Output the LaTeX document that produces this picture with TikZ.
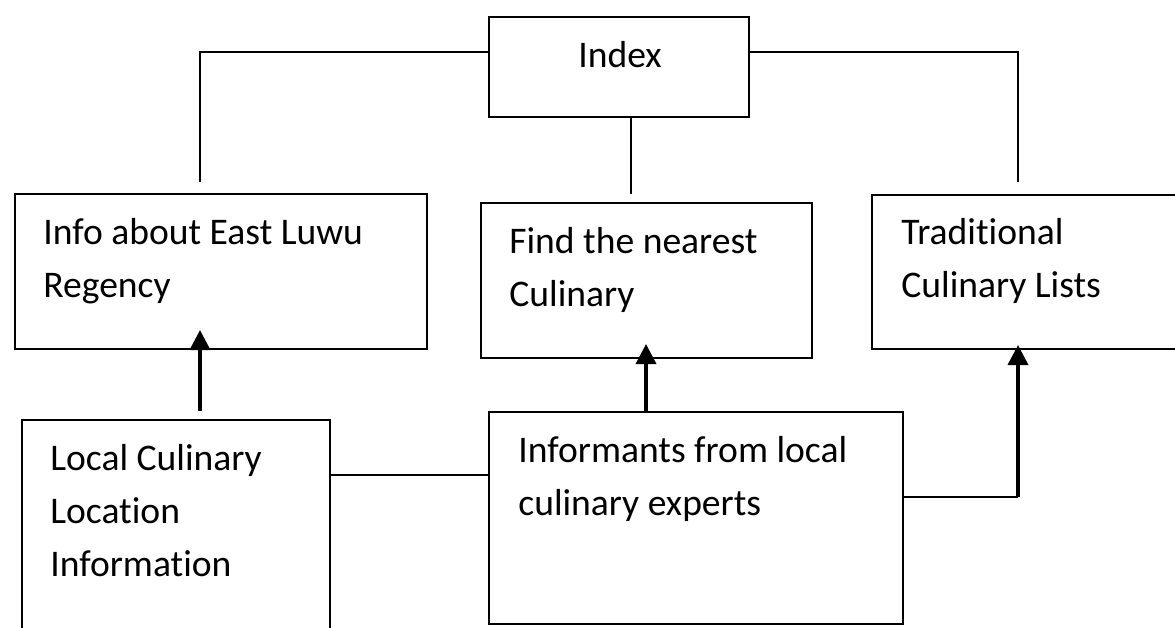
\documentclass[tikz,border=0pt]{standalone}
\usepackage{fontspec}
\setmainfont{Carlito}[Ligatures=NoCommon]
\usetikzlibrary{arrows.meta}

\tikzset{
  box/.style={draw, line width=1pt, inner sep=0pt},
  boxtext/.style={anchor=base west, inner sep=0pt, align=left,
    font=\fontsize{21.4}{30}\selectfont},
  link/.style={line width=1pt},
  flow/.style={line width=2pt, -{Triangle[length=0.4cm, width=0.4cm]}}
}

\begin{document}
\begin{tikzpicture}[line cap=butt,line join=miter,x=0.02cm,y=-0.02cm]
	\useasboundingbox (0,0) rectangle (1175,627);
	\clip (0,0) rectangle (1175,627);
	% boxes
	\node[box, minimum width=5.2cm, minimum height=2cm] (index) at (619,67) {};
	\node[box, minimum width=8.24cm, minimum height=3.1cm] (info) at (221,271.5) {};
	\node[box, minimum width=6.62cm, minimum height=3.1cm] (nearest) at (646.5,280.5) {};
	\node[box, minimum width=6.36cm, minimum height=3.08cm] (trad) at (1031,272) {};
	\node[box, minimum width=6.16cm, minimum height=4.8cm] (local) at (176,540) {};
	\node[box, minimum width=8.28cm, minimum height=4.24cm] (informants) at (696,518) {};
	% texts (base = last line)
	\node[boxtext, anchor=base] (indextext) at (620,67) {Index};
	\node[boxtext] (infotext) at (43,297) {Info about East Luwu\\Regency};
	\node[boxtext] (nearesttext) at (509,306) {Find the nearest\\Culinary};
	\node[boxtext] (tradtext) at (901,297) {Traditional\\Culinary Lists};
	\node[boxtext] (localtext) at (50,576) {Local Culinary\\Location\\Information};
	\node[boxtext] (informantstext) at (518,515) {Informants from local\\culinary experts};
	% free ends
	\coordinate (bar) at (0,52);
	\coordinate (infoend) at (200,182);
	\coordinate (tradend) at (1018,182);
	\coordinate (nearend) at (631,194);
	\coordinate (localend) at (200,411);
	\coordinate (infotip) at (200,330);
	\coordinate (nearesttip) at (646,344);
	\coordinate (tradtip) at (1018,345);
	\coordinate (midline) at (0,475);
	\coordinate (expline) at (0,497);
	% lines
	\draw[link] (index.west |- bar) -| (infoend);
	\draw[link] (index.east |- bar) -| (tradend);
	\draw[link] (index.south -| nearend) -- (nearend);
	\draw[link] (local.east |- midline) -- (informants.west |- midline);
	\draw[link] (informants.east |- expline) -- (tradtip |- expline);
	% arrows
	\draw[flow] (localend) -- (infotip);
	\draw[flow] (informants.north -| nearesttip) -- (nearesttip);
	\draw[flow] (tradtip |- expline) -- (tradtip);
\end{tikzpicture}
\end{document}
